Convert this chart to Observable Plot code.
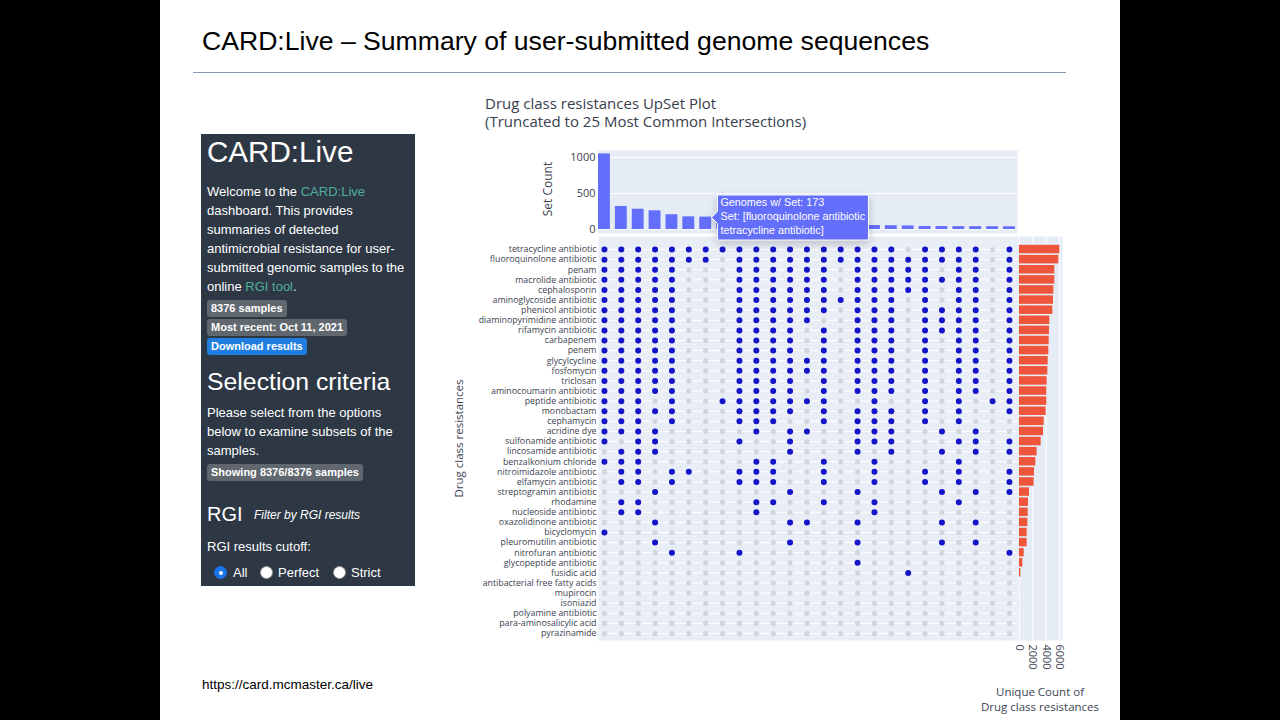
<!DOCTYPE html>
<html>
<head>
<meta charset="utf-8">
<script src="https://cdn.jsdelivr.net/npm/d3@7"></script>
<script src="https://cdn.jsdelivr.net/npm/@observablehq/plot@0.6"></script>
<style>
html,body{margin:0;padding:0;background:#000;width:1280px;height:720px;overflow:hidden;}
#slide{position:absolute;left:160px;top:0;width:960px;height:720px;background:#fff;}
.abs{position:absolute;white-space:nowrap;}
.t{color:#fff;font-family:"Liberation Sans",Arial,Helvetica,sans-serif;}
.lnk{color:#4fae9e;}
.badge{font:bold 11px/1 "Liberation Sans",Arial,sans-serif;color:#fff;background:#60676f;padding:3px 4px;border-radius:3px;}
.badge.blue{background:#1f7ee0;}
.radio{position:absolute;width:11px;height:11px;border-radius:50%;background:#fff;border:0.5px solid #999;}
.radio.on{background:#1a73e8;border-color:#1a73e8;}
.radio.on::after{content:"";position:absolute;left:3.5px;top:3.5px;width:4px;height:4px;border-radius:50%;background:#fff;}
.chart{position:absolute;}
g[aria-label="tip"] path{fill:#636efa;stroke:#ffffff;}
g[aria-label="tip"] text, g[aria-label="tip"] tspan{fill:#ffffff;}
</style>
</head>
<body>
<div id="slide"></div>
<div class="abs" style="left:202px;top:27.5px;font:26.6px/1 'Liberation Sans',Arial,sans-serif;color:#000;">CARD:Live – Summary of user-submitted genome sequences</div>
<div class="abs" style="left:193px;top:72px;width:873px;height:1px;background:#8797ad;"></div>

<div class="abs" style="left:201px;top:134px;width:214px;height:452px;background:#2e3845;"></div>
<div class="abs t" style="left:207px;top:137px;font-size:29.6px;line-height:1;">CARD:Live</div>
<div class="abs t" style="left:207px;top:181.5px;font-size:13px;line-height:19px;">Welcome to the <span class="lnk">CARD:Live</span><br>dashboard. This provides<br>summaries of detected<br>antimicrobial resistance for user-<br>submitted genomic samples to the<br>online <span class="lnk">RGI tool</span>.</div>
<div class="abs badge" style="left:207px;top:299.5px;">8376 samples</div>
<div class="abs badge" style="left:207px;top:318.5px;">Most recent: Oct 11, 2021</div>
<div class="abs badge blue" style="left:207px;top:337.5px;">Download results</div>
<div class="abs t" style="left:207px;top:369.5px;font-size:24.8px;line-height:1;">Selection criteria</div>
<div class="abs t" style="left:207px;top:402.5px;font-size:13px;line-height:19px;">Please select from the options<br>below to examine subsets of the<br>samples.</div>
<div class="abs badge" style="left:207px;top:464px;">Showing 8376/8376 samples</div>
<div class="abs t" style="left:207px;top:504px;font-size:20px;line-height:1;">RGI</div>
<div class="abs t" style="left:254px;top:509px;font-size:12px;line-height:1;font-style:italic;">Filter by RGI results</div>
<div class="abs t" style="left:207px;top:539.5px;font-size:13px;line-height:1;">RGI results cutoff:</div>
<div class="radio on" style="left:214px;top:566px;"></div>
<div class="abs t" style="left:233px;top:566px;font-size:13px;line-height:1;">All</div>
<div class="radio" style="left:260px;top:566px;"></div>
<div class="abs t" style="left:278px;top:566px;font-size:13px;line-height:1;">Perfect</div>
<div class="radio" style="left:333px;top:566px;"></div>
<div class="abs t" style="left:351px;top:566px;font-size:13px;line-height:1;">Strict</div>

<div class="abs" style="left:202px;top:678px;font:13.5px/1 'Liberation Sans',Arial,sans-serif;color:#000;">https://card.mcmaster.ca/live</div>

<div class="abs" style="left:485px;top:94px;font:15px/18px 'Open Sans',sans-serif;color:#37404d;">Drug class resistances UpSet Plot<br>(Truncated to 25 Most Common Intersections)</div>

<div id="matrix" class="chart" style="left:440px;top:236px;z-index:1;"></div>
<div id="right" class="chart" style="left:1017px;top:236px;z-index:1;"></div>
<div id="top" class="chart" style="left:530px;top:140px;z-index:3;"></div>

<script>
const drugClasses = [
  "tetracycline antibiotic","fluoroquinolone antibiotic","penam","macrolide antibiotic","cephalosporin",
  "aminoglycoside antibiotic","phenicol antibiotic","diaminopyrimidine antibiotic","rifamycin antibiotic","carbapenem",
  "penem","glycylcycline","fosfomycin","triclosan","aminocoumarin antibiotic",
  "peptide antibiotic","monobactam","cephamycin","acridine dye","sulfonamide antibiotic",
  "lincosamide antibiotic","benzalkonium chloride","nitroimidazole antibiotic","elfamycin antibiotic","streptogramin antibiotic",
  "rhodamine","nucleoside antibiotic","oxazolidinone antibiotic","bicyclomycin","pleuromutilin antibiotic",
  "nitrofuran antibiotic","glycopeptide antibiotic","fusidic acid","antibacterial free fatty acids","mupirocin",
  "isoniazid","polyamine antibiotic","para-aminosalicylic acid","pyrazinamide"
];
const classTotals = [
  6050, 5900, 5300, 5300, 5150, 5100, 5000, 4550, 4500, 4450,
  4400, 4300, 4250, 4150, 4100, 4100, 4000, 3700, 3600, 3250,
  2650, 2450, 2250, 2200, 1500, 1350, 1300, 1250, 1150, 1150,
  700, 500, 200, 8, 6, 5, 4, 3, 2
];
const intersectionIds = ["S1","S2","S3","S4","S5","S6","S7","S8","S9","S10","S11","S12","S13",
  "S14","S15","S16","S17","S18","S19","S20","S21","S22","S23","S24","S25"];
const setCounts = [1050, 320, 282, 260, 205, 176, 173, 150, 130, 115, 100, 90, 80, 72, 66, 58, 55, 53, 50, 42, 41, 40, 40, 39, 38];
// for each drug class: indexes of the intersections (columns) that contain it
const classSets = [
  [0,1,2,3,4,5,6,7,8,9,10,11,12,13,14,15,16,17,19,20,21,22,24],
  [0,1,2,3,4,5,6,8,9,10,11,12,13,14,15,16,17,18,19,20,21,22,24],
  [0,1,2,3,4,8,9,10,11,12,13,15,16,17,18,19,21,22,24],
  [0,1,2,3,4,8,9,10,11,12,13,15,16,17,18,19,20,21,22,24],
  [0,1,2,3,4,8,9,10,11,12,13,15,16,17,18,19,21,22,24],
  [0,1,2,3,4,8,9,10,11,12,13,14,15,16,17,19,21,22,24],
  [0,1,2,3,4,8,9,10,11,12,13,15,16,17,19,20,21,22,24],
  [0,1,2,3,4,8,9,10,11,12,15,16,17,19,20,21,22,24],
  [0,1,2,3,4,8,9,10,11,13,15,16,17,19,20,21,22,24],
  [0,1,2,3,4,8,9,10,11,13,15,16,17,19,21,22,24],
  [0,1,2,3,4,8,9,10,11,13,15,16,17,19,21,22,24],
  [0,1,2,3,4,8,9,10,11,12,13,15,16,17,19,21,22,24],
  [0,1,2,3,4,8,9,10,11,12,13,15,16,17,19,21,22,24],
  [0,1,2,3,4,8,9,10,11,13,15,16,17,19,21,22,24],
  [0,1,2,3,4,8,9,10,11,13,15,16,17,19,21,22,24],
  [0,1,2,4,7,8,9,10,11,12,13,16,19,21,23,24],
  [0,1,2,3,4,8,9,10,11,13,15,16,17,19,21,24],
  [0,1,2,4,8,9,10,13,15,16,17,19,21],
  [0,1,2,3,9,11,12,15,16,17,20,22],
  [0,2,3,8,11,15,16,17,21,22,24],
  [1,2,3,11,15,17,20,22,24],
  [0,1,2,9,10,13,16,21],
  [1,2,4,5,8,9,10,13,16,19,21,24],
  [1,2,4,8,9,10,13,16,19,21,24],
  [3,11,15,20,22,24],
  [1,2,9,10,13,16,21],
  [1,2,9,16],
  [3,11,12,15,20,22],
  [0],
  [3,11,15,20,22],
  [4,8,24],
  [15],
  [18],
  [], [], [], [], [], []
];
const setCountTicks = [0, 500, 1000];
const totalTicks = [0, 2000, 4000, 6000];
const hoveredSet = 6;

// derived tables
const setRows = intersectionIds.map((id, j) => ({id, count: setCounts[j]}));
const classRows = drugClasses.map((name, i) => ({name, total: classTotals[i]}));
const cells = [];
drugClasses.forEach((name, i) => intersectionIds.forEach((id, j) => cells.push({name, id, member: classSets[i].includes(j)})));
const hoverMembers = drugClasses.filter((c, i) => classSets[i].includes(hoveredSet)).sort();
const hoverRows = [{id: intersectionIds[hoveredSet], count: setCounts[hoveredSet],
  text: `Genomes w/ Set: ${setCounts[hoveredSet]}\nSet: [${hoverMembers.join("\n")}]`}];

const font = "'Open Sans', sans-serif";
const ink = "#3b4352";
const plain = d => String(d);

// top: set counts
const topMarks = [
  Plot.frame({fill: "#e5ecf6", stroke: null}),
  Plot.gridY(setCountTicks, {stroke: "#ffffff", strokeOpacity: 1}),
  Plot.axisY(setCountTicks, {tickSize: 0, tickPadding: 3, fontSize: 11, label: null, tickFormat: plain}),
  Plot.text(["Set Count"], {frameAnchor: "left", textAnchor: "middle", rotate: -90, dx: -50, dy: -3, fontSize: 12}),
  Plot.barY(setRows, {x: "id", y: "count", fill: "#636efa", insetLeft: 2.5, insetRight: 2.5})
];
if (Plot.tip) {
  topMarks.push(Plot.tip(hoverRows, {x: "id", y: "count", title: "text", anchor: "left", dx: 5.5,
    fill: "#636efa", stroke: "#ffffff", fontSize: 10.8, lineHeight: 1.27, textPadding: 3,
    lineWidth: 15.4, textOverflow: "clip-end", fontFamily: "'Liberation Sans', Arial, sans-serif"}));
}
const topPlot = Plot.plot({
  width: 490, height: 100,
  marginLeft: 68, marginRight: 3, marginTop: 10, marginBottom: 7,
  style: {background: "transparent", overflow: "visible", fontFamily: font, color: ink},
  x: {type: "band", domain: intersectionIds, range: [65.5, 487.4], padding: 0, round: false, axis: null},
  y: {domain: [-55, 1097], axis: null},
  marks: topMarks
});
document.getElementById("top").appendChild(topPlot);

// matrix
const matrixPlot = Plot.plot({
  width: 580, height: 406,
  marginLeft: 158, marginRight: 3, marginTop: 0, marginBottom: 2,
  style: {background: "transparent", overflow: "visible", fontFamily: font, color: ink},
  x: {type: "band", domain: intersectionIds, range: [155.5, 577.4], padding: 0, round: false, axis: null},
  y: {type: "band", domain: drugClasses, range: [8, 402.1], padding: 0, round: false, axis: null},
  marks: [
    Plot.frame({fill: "#e8edf6", stroke: null}),
    Plot.gridY({stroke: "#ffffff", strokeOpacity: 1}),
    Plot.axisY({tickSize: 0, tickPadding: 2, fontSize: 8.8, label: null}),
    Plot.text(["Drug class resistances"], {frameAnchor: "left", textAnchor: "middle", rotate: -90, dx: -139, fontSize: 11.5}),
    Plot.dot(cells.filter(d => !d.member), {x: "id", y: "name", r: 2.6, fill: "#d1d5dc"}),
    Plot.dot(cells.filter(d => d.member), {x: "id", y: "name", r: 3, fill: "#1414c8"})
  ]
});
document.getElementById("matrix").appendChild(matrixPlot);

// right: class totals
const rightPlot = Plot.plot({
  width: 48, height: 486,
  marginLeft: 0, marginRight: 3, marginTop: 0, marginBottom: 82,
  style: {background: "transparent", overflow: "visible", fontFamily: font, color: ink},
  x: {domain: [0, 6000], range: [2, 42], axis: null},
  y: {type: "band", domain: drugClasses, range: [8, 402.1], padding: 0, round: false, axis: null},
  marks: [
    Plot.frame({fill: "#e5ecf6", stroke: null}),
    Plot.gridX(totalTicks, {stroke: "#ffffff", strokeOpacity: 1}),
    Plot.axisX(totalTicks, {tickSize: 0, tickPadding: 4, tickRotate: 90, fontSize: 11, label: null, tickFormat: plain}),
    Plot.barX(classRows, {x: "total", y: "name", fill: "#ef553b", insetTop: 0.8, insetBottom: 0.8}),
    Plot.text(["Unique Count of\nDrug class resistances"], {frameAnchor: "bottom", lineAnchor: "top", dy: 45, fontSize: 11.5, lineHeight: 1.3})
  ]
});
document.getElementById("right").appendChild(rightPlot);
</script>
</body>
</html>
